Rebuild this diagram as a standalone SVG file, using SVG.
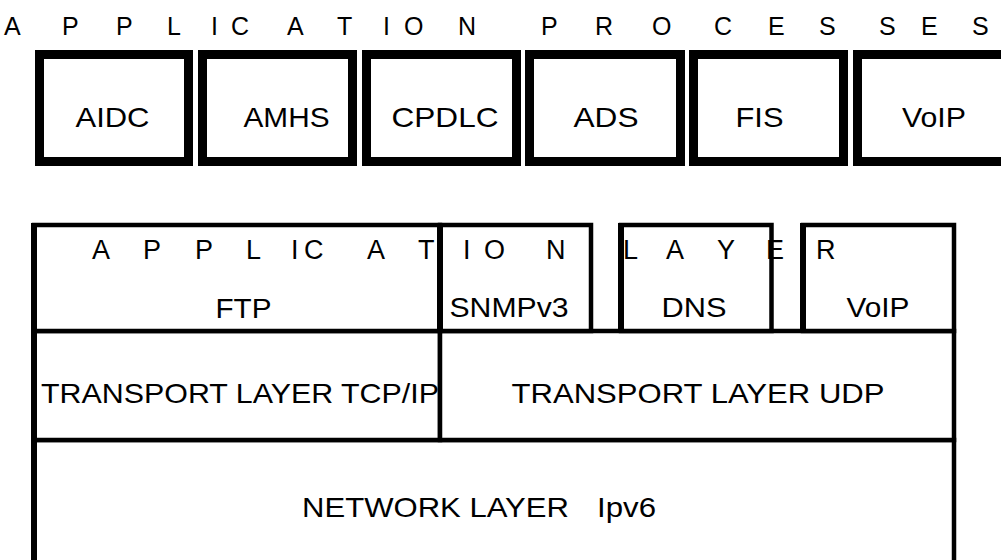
<svg xmlns="http://www.w3.org/2000/svg" width="1001" height="560" viewBox="0 0 1001 560">
<style>
.bg{fill:#ffffff}
.top{fill:#ffffff;stroke:#000000;stroke-width:9}
.box{fill:#ffffff;stroke:#000000;stroke-width:4.5}
.edge{stroke:#000000;stroke-width:6;fill:none}
.lbl{font-family:"Liberation Sans",Arial,Helvetica,sans-serif;font-size:28px;fill:#000000;text-anchor:middle}
.sp{font-family:"Liberation Sans",Arial,Helvetica,sans-serif;fill:#000000;text-anchor:start}
</style>
<rect class="bg" x="0" y="0" width="1001" height="560"/>
<g id="title">
<text class="sp" font-size="25" y="35" x="4 62 116 167 211 231 287 337 383 404 458 510 541 595 652 714 768 819 879 921 972">APPLICATION PROCESSES</text>
</g>
<g id="node-aidc"><rect class="top" x="39.5" y="54.5" width="149" height="107"/><text class="lbl" x="112.5" y="127" textLength="74" lengthAdjust="spacingAndGlyphs">AIDC</text></g>
<g id="node-amhs"><rect class="top" x="202.5" y="54.5" width="150" height="107"/><text class="lbl" x="286.5" y="127" textLength="86" lengthAdjust="spacingAndGlyphs">AMHS</text></g>
<g id="node-cpdlc"><rect class="top" x="366.5" y="54.5" width="150" height="107"/><text class="lbl" x="445" y="127" textLength="107" lengthAdjust="spacingAndGlyphs">CPDLC</text></g>
<g id="node-ads"><rect class="top" x="529.5" y="54.5" width="151" height="107"/><text class="lbl" x="606" y="127" textLength="65" lengthAdjust="spacingAndGlyphs">ADS</text></g>
<g id="node-fis"><rect class="top" x="693.5" y="54.5" width="150" height="107"/><text class="lbl" x="759.5" y="127" textLength="48" lengthAdjust="spacingAndGlyphs">FIS</text></g>
<g id="node-voip-top"><rect class="top" x="857.5" y="54.5" width="150" height="107"/><text class="lbl" x="934" y="127" textLength="64" lengthAdjust="spacingAndGlyphs">VoIP</text></g>

<g id="node-network"><rect class="box" x="34" y="440" width="920" height="140"/><line class="edge" x1="34" y1="438" x2="34" y2="560"/><text class="lbl" y="517" style="text-anchor:start"><tspan x="302" textLength="267" lengthAdjust="spacingAndGlyphs">NETWORK LAYER</tspan> <tspan x="597" textLength="59" lengthAdjust="spacingAndGlyphs">Ipv6</tspan></text></g>
<g id="node-tcp"><rect class="box" x="34" y="331" width="406" height="109"/><line class="edge" x1="34" y1="329" x2="34" y2="442"/><text class="lbl" x="240" y="403" textLength="398" lengthAdjust="spacingAndGlyphs">TRANSPORT LAYER TCP/IP</text></g>
<g id="node-udp"><rect class="box" x="440" y="331" width="514" height="109"/><text class="lbl" x="698" y="403" textLength="373" lengthAdjust="spacingAndGlyphs">TRANSPORT LAYER UDP</text></g>
<g id="node-ftp"><rect class="box" x="34" y="225" width="406" height="106"/><line class="edge" x1="34" y1="223" x2="34" y2="333"/><text class="lbl" x="243.5" y="318" textLength="56" lengthAdjust="spacingAndGlyphs">FTP</text></g>
<g id="node-snmp"><rect class="box" x="440" y="225" width="151" height="106"/><line class="edge" x1="440" y1="223" x2="440" y2="333"/><text class="lbl" x="509" y="317" textLength="119" lengthAdjust="spacingAndGlyphs">SNMPv3</text></g>
<g id="node-dns"><rect class="box" x="621" y="225" width="150.5" height="106"/><line class="edge" x1="621" y1="223" x2="621" y2="333"/><text class="lbl" x="694" y="317" textLength="65" lengthAdjust="spacingAndGlyphs">DNS</text></g>
<g id="node-voip"><rect class="box" x="803" y="225" width="151" height="106"/><line class="edge" x1="803" y1="223" x2="803" y2="333"/><text class="lbl" x="878" y="317" textLength="63" lengthAdjust="spacingAndGlyphs">VoIP</text></g>
<g id="layer-title">
<text class="sp" font-size="27" y="259" x="92 143 195 246 291 304 367 418 463 484 546 590 623 666 717 766 816">APPLICATION LAYER</text>
</g>
<g id="connectors"></g>
</svg>
